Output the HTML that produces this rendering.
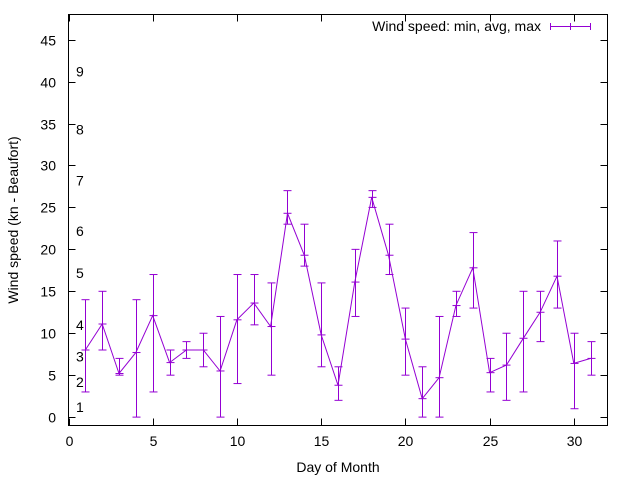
<!DOCTYPE html>
<html><head><meta charset="utf-8"><style>
body{margin:0;background:#fff}
svg{display:block;font-family:"Liberation Sans",sans-serif}
</style></head><body>
<svg id="chart" width="640" height="480" viewBox="0 0 640 480" xmlns="http://www.w3.org/2000/svg">
<rect width="640" height="480" fill="#fff"/>
<g id="axes"></g>
<g id="beaufort"></g>
<g id="series"></g>
<rect x="68.5" y="14.5" width="539" height="411" fill="none" stroke="#000" stroke-width="1"/>
<text x="338" y="472" font-size="14" text-anchor="middle">Day of Month</text>
<text transform="translate(18,220) rotate(-90)" font-size="14" text-anchor="middle">Wind speed (kn - Beaufort)</text>
<g>
<text x="541" y="31" font-size="14" text-anchor="end">Wind speed: min, avg, max</text>
<g stroke="#9400d3" stroke-width="1">
<line x1="550" y1="26.5" x2="591" y2="26.5"/><line x1="550.5" y1="23" x2="550.5" y2="30"/><line x1="590.5" y1="23" x2="590.5" y2="30"/><line x1="570.5" y1="23" x2="570.5" y2="30"/>
</g></g>
</svg>
<script>
const days=[1,2,3,4,5,6,7,8,9,10,11,12,13,14,15,16,17,18,19,20,21,22,23,24,25,26,27,28,29,30,31];
const avgVals=[8.0,11.1,5.2,7.7,12.1,6.5,8.0,8.0,5.5,11.6,13.6,10.8,24.3,19.3,9.8,3.8,16.1,26.2,19.3,9.3,2.2,4.7,13.3,17.8,5.3,6.2,9.4,12.5,16.8,6.4,7.0];
const minVals=[3,8,5,0,3,5,7,6,0,4,11,5,23,18,6,2,12,25,17,5,0,0,12,13,3,2,3,9,13,1,5];
const maxVals=[14,15,7,14,17,8,9,10,12,17,17,16,27,23,16,6,20,27,23,13,6,12,15,22,7,10,15,15,21,10,9];
const xTicks=[0,5,10,15,20,25,30];
const yTicks=[0,5,10,15,20,25,30,35,40,45];
const beaufortLabels=["1","2","3","4","5","6","7","8","9"];
const beaufortKn=[1.2,4.2,7.2,11,17.2,22.2,28.2,34.3,41.2];
const NS="http://www.w3.org/2000/svg";
const X0=68.5,X1=607.5,Y0=425.5,Y1=14.5;
const xMin=0,xMax=32,yMin=-1,yMax=48;
function sx(v){return X0+(v-xMin)/(xMax-xMin)*(X1-X0);}
function sy(v){return Y0-(v-yMin)/(yMax-yMin)*(Y0-Y1);}
function mk(tag,attrs,parent){const e=document.createElementNS(NS,tag);for(const k in attrs)e.setAttribute(k,attrs[k]);parent.appendChild(e);return e;}
const axes=document.getElementById('axes');
xTicks.forEach(t=>{
  const x=Math.round(sx(t))+0.5;
  const a=mk('line',{x1:x,y1:Y0,x2:x,y2:Y0-7,stroke:'#000'},axes);
  
  
  const b=mk('line',{x1:x,y1:Y1,x2:x,y2:Y1+7,stroke:'#000'},axes);
  
  
  const l=mk('text',{x:x,y:446,'font-size':14,'text-anchor':'middle'},axes);
  l.textContent=t;
  
  
});
yTicks.forEach(t=>{
  const y=Math.round(sy(t))+0.5;
  const a=mk('line',{x1:X0,y1:y,x2:X0+7,y2:y,stroke:'#000'},axes);
  
  
  const b=mk('line',{x1:X1,y1:y,x2:X1-7,y2:y,stroke:'#000'},axes);
  
  
  const l=mk('text',{x:56,y:y+5,'font-size':14,'text-anchor':'end'},axes);
  l.textContent=t;
  
  
});
const bf=document.getElementById('beaufort');
beaufortLabels.forEach((s,i)=>{
  const l=mk('text',{x:76,y:sy(beaufortKn[i])+5,'font-size':14},bf);
  l.textContent=s;
  
  
});
const g=document.getElementById('series');
const pts=days.map((d,i)=>sx(d).toFixed(1)+','+sy(avgVals[i]).toFixed(1)).join(' ');
const pl=mk('polyline',{points:pts,fill:'none',stroke:'#9400d3','stroke-width':1},g);


days.forEach((d,i)=>{
  const x=Math.round(sx(d))+0.5;
  const eb=mk('g',{stroke:'#9400d3','stroke-width':1},g);
  
  
  mk('line',{x1:x,y1:sy(minVals[i]),x2:x,y2:sy(maxVals[i])},eb);
  mk('line',{x1:x-4,y1:sy(minVals[i]),x2:x+4,y2:sy(minVals[i])},eb);
  mk('line',{x1:x-4,y1:sy(maxVals[i]),x2:x+4,y2:sy(maxVals[i])},eb);
  mk('line',{x1:x-4,y1:sy(avgVals[i]),x2:x+4,y2:sy(avgVals[i])},eb);
});
</script>
</body></html>
